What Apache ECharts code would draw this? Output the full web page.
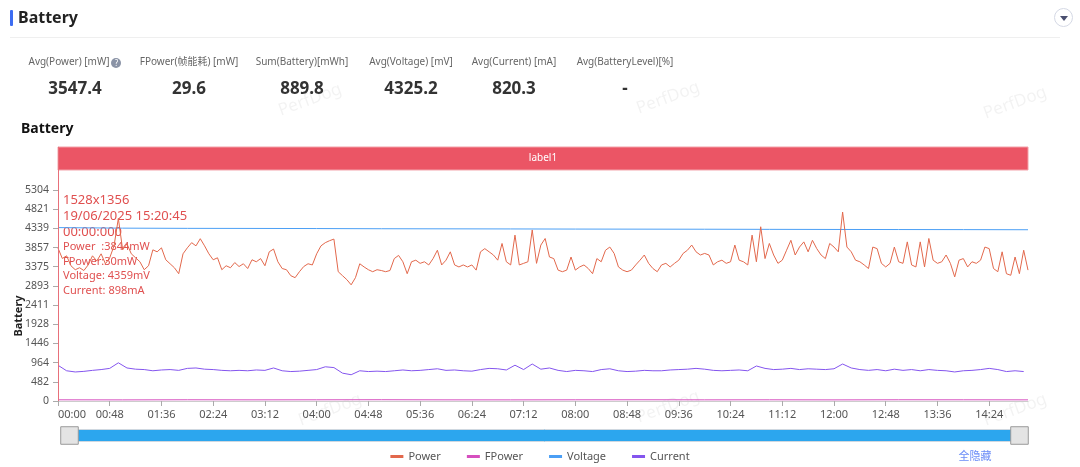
<!DOCTYPE html>
<html>
<head>
<meta charset="utf-8">
<script src="https://cdn.jsdelivr.net/npm/echarts@6/dist/echarts.min.js"></script>
<style>
body{margin:0;background:#fff;font-family:"Noto Sans","Noto Sans CJK SC",sans-serif;}
#wrap{position:relative;width:1080px;height:467px;overflow:hidden;}
#lineArea{position:absolute;left:0;top:0;width:1080px;height:467px;}
.abs{position:absolute;}
.bar{left:10px;top:10px;width:3px;height:16px;background:#3d6df2;border-radius:1px;}
.head{left:18px;top:6px;font-size:16px;font-weight:bold;color:#222;line-height:22px;}
.sep{left:10px;top:37px;width:1050px;height:1px;background:#efefef;}
.btn{left:1054px;top:8px;width:17px;height:17px;border:1px solid #d4d8e4;border-radius:50%;}
.btn:after{content:"";position:absolute;left:5px;top:7px;border-left:4px solid transparent;border-right:4px solid transparent;border-top:5px solid #4a5070;}
.lab{width:160px;text-align:center;top:53px;font-size:10px;color:#666;line-height:16px;white-space:nowrap;}
.val{width:160px;text-align:center;top:76px;font-size:17px;font-weight:bold;color:#333;line-height:24px;}
.q{display:inline-block;width:10px;height:10px;border-radius:50%;background:#8a93a6;color:#fff;font-size:8px;line-height:10px;text-align:center;vertical-align:-1px;margin-left:2px;}
</style>
</head>
<body>
<div id="wrap">
  <div id="lineArea"></div>
  <div class="abs bar"></div>
  <div class="abs head">Battery</div>
  <div class="abs sep"></div>
  <div class="abs btn"></div>
  <div id="stats"></div>
</div>
<script>
// 顶部统计
var statNames = ['Avg(Power) [mW]', 'FPower(帧能耗) [mW]', 'Sum(Battery)[mWh]', 'Avg(Voltage) [mV]', 'Avg(Current) [mA]', 'Avg(BatteryLevel)[%]'];
var statValues = ['3547.4', '29.6', '889.8', '4325.2', '820.3', '-'];
var statCenters = [75, 189, 302, 411, 514, 625];

// 曲线数据 (秒)
var powerStep = 4;
var power = [
  3844,3583,3650,3400,3300,3350,3280,3420,3650,3520,3700,3450,3600,3900,4590,3800,3950,3700,3600,3500,
  3300,3400,3800,3750,3850,3550,3450,3350,3200,3700,3850,3980,3900,4080,3900,3700,3550,3600,3300,3400,
  3350,3480,3380,3450,3330,3550,3500,3580,3400,3750,3820,3500,3330,3300,3150,3100,3250,3380,3450,3420,
  3700,3900,3980,4030,4070,3250,3150,3050,2920,3100,3450,3370,3300,3250,3300,3280,
  3250,3280,3580,3660,3500,3200,3500,3540,3460,3500,3420,3580,3790,3420,3540,3750,3420,3370,3420,3370,
  3420,3290,3750,3830,3750,3670,3540,3960,3500,3420,4170,3420,3460,3500,4300,3460,3920,4085,3620,3580,
  3290,3250,3290,3620,3290,3370,3420,3330,3200,3580,3500,3790,3870,3710,3370,3290,3250,3290,3420,3540,
  3670,3460,3330,3250,3420,3460,3370,3460,3540,3710,3790,3920,3750,3670,3710,
  3670,3420,3500,3540,3460,3500,3920,3540,3500,3420,4170,3500,4380,3580,3960,3670,3460,3540,3790,4040,
  3670,3870,4000,3750,4040,3830,3670,3580,3960,3870,3750,4750,3870,3750,3540,3500,3420,3330,3870,3830,
  3460,3370,3460,3870,3500,3460,4000,3420,3370,4000,3370,4085,3540,3460,3500,3670,3460,3120,3540,3580,
  3370,3500,3460,3540,3870,3830,3330,3250,3750,3200,3160,3620,3200,3790,3290
];
var currentStep = 8;
var current = [
  898,760,730,745,770,790,820,960,830,800,790,760,780,790,770,820,830,800,790,770,
  760,770,760,780,770,830,760,740,750,770,790,860,840,700,660,760,740,750,
  740,760,780,760,770,790,810,770,780,760,750,790,820,810,780,900,790,930,800,830,
  770,740,770,760,740,790,810,760,740,750,770,760,760,780,790,800,820,800,
  770,760,770,780,760,880,820,790,800,820,790,810,800,790,810,930,830,790,770,790,
  760,800,770,790,760,790,770,760,730,760,770,790,820,790,740,760,740
];
var slowStep = 60;
var voltage = [4359,4345,4340,4338,4335,4330,4328,4325,4322,4320,4318,4315,4312,4310,4308,4305];
var fpower = [30,28,31,29,30,32,29,28,30,31,29,30,28,31,30,29];

var yTickLabels = ['0','482','964','1446','1928','2411','2893','3375','3857','4339','4821','5304'];
var xTickLabels = ['00:00','00:48','01:36','02:24','03:12','04:00','04:48','05:36','06:24','07:12','08:00',
  '08:48','09:36','10:24','11:12','12:00','12:48','13:36','14:24'];
var totalSecs = 900;
var markerSec = 0;
var markerLines = ['1528x1356', '19/06/2025 15:20:45', '00:00:000'];
var markerValues = ['Power  :3844mW', 'FPower:30mW', 'Voltage: 4359mV', 'Current: 898mA'];

var yMax = 6385, bandLow = 5807;

// stats
var statsBox = document.getElementById('stats');
statNames.forEach(function (n, i) {
  var l = document.createElement('div');
  l.className = 'abs lab';
  l.style.left = (statCenters[i] - 80) + 'px';
  l.innerHTML = n + (i === 0 ? '<span class="q">?</span>' : '');
  statsBox.appendChild(l);
  var v = document.createElement('div');
  v.className = 'abs val';
  v.style.left = (statCenters[i] - 80) + 'px';
  v.textContent = statValues[i];
  statsBox.appendChild(v);
});

function toPairs(arr, step) {
  return arr.map(function (v, i) { return [i * step, v]; });
}
function secText(s) {
  var m = Math.floor(s / 60), r = Math.round(s % 60);
  return (m < 10 ? '0' : '') + m + ':' + (r < 10 ? '0' : '') + r;
}
var xTicks = xTickLabels.map(function (t) {
  var p = t.split(':');
  return (+p[0]) * 60 + (+p[1]);
});
var yTicks = yTickLabels.map(Number);

var marks = [];
[[310, 100], [668, 98], [1015, 103], [330, 410], [668, 407], [1015, 410]].forEach(function (p) {
  marks.push({
    type: 'text', x: p[0], y: p[1], rotation: 0.35, z: 0,
    style: { text: 'PerfDog', fontSize: 17, fill: 'rgba(0,0,0,0.05)', align: 'center', verticalAlign: 'middle', fontFamily: 'Noto Sans' }
  });
});
marks.push({
  type: 'text', x: 975, y: 456,
  style: { text: '全隐藏', fontSize: 11, fill: '#6b8cf7', align: 'center', verticalAlign: 'middle', fontFamily: 'Noto Sans CJK SC' }
});

var myChart = echarts.init(document.getElementById('lineArea'));
var option = {
  animation: false,
  color: ['#e2684c', '#d64fbf', '#4b9ff5', '#8455ee'],
  textStyle: { fontFamily: 'Noto Sans' },
  title: {
    text: 'Battery', left: 16, top: 117,
    textStyle: { fontSize: 14, fontWeight: 'bold', color: '#111' }
  },
  grid: { left: 58, right: 52, top: 147, bottom: 66, outerBoundsMode: 'none', containLabel: false },
  legend: {
    bottom: 0, left: 'center', icon: 'rect', itemWidth: 13, itemHeight: 3, itemGap: 26,
    textStyle: { fontSize: 11, color: '#555' },
    data: ['Power', 'FPower', 'Voltage', 'Current']
  },
  xAxis: {
    type: 'value', min: 0, max: totalSecs,
    axisLine: { lineStyle: { color: '#ccc' } },
    axisTick: { length: 5, lineStyle: { color: '#aaa' }, customValues: xTicks },
    splitLine: { show: false },
    axisLabel: {
      customValues: xTicks, fontSize: 11, color: '#555', margin: 8,
      alignMinLabel: 'left', formatter: function (v) { return secText(v); }
    }
  },
  yAxis: {
    type: 'value', min: 0, max: yMax,
    name: 'Battery', nameLocation: 'middle', nameGap: 34, nameMoveOverlap: false,
    nameTextStyle: { fontSize: 11, fontWeight: 'bold', color: '#222', padding: [0, 84, 0, 0] },
    axisLine: { show: true, lineStyle: { color: '#ccc' } },
    axisTick: { show: true, length: 5, lineStyle: { color: '#aaa' }, customValues: yTicks },
    splitLine: { show: false },
    axisLabel: {
      customValues: yTicks, fontSize: 10.5, color: '#555', margin: 9,
      formatter: function (v) { return yTickLabels[yTicks.indexOf(v)] || ''; }
    }
  },
  dataZoom: [{
    type: 'slider', xAxisIndex: 0, left: 67, right: 61, top: 429, height: 13,
    start: 0, end: 100, showDetail: false, showDataShadow: false, brushSelect: false,
    moveHandleSize: 0, borderColor: '#cfd8e0', backgroundColor: '#eef3f7',
    fillerColor: '#2ca6ee',
    handleIcon: 'path://M0,0H100V100H0Z', handleSize: '135%',
    handleStyle: { color: '#e4e4e4', borderColor: '#9a9a9a', borderWidth: 1 }
  }],
  series: [
    {
      name: 'Power', type: 'line', symbol: 'none', data: toPairs(power, powerStep),
      lineStyle: { width: 1 }, z: 4,
      markLine: {
        silent: true, symbol: 'none', label: { show: false },
        lineStyle: { color: '#e8707a', type: 'solid', width: 1 },
        data: [{ xAxis: markerSec }]
      },
      markArea: {
        silent: true,
        itemStyle: { color: '#eb5565', borderColor: '#f3a0a8', borderWidth: 1 },
        label: { show: true, position: 'inside', color: '#fff', fontSize: 10 },
        data: [[{ name: 'label1', xAxis: 0, yAxis: bandLow }, { xAxis: totalSecs, yAxis: yMax }]]
      }
    },
    { name: 'FPower', type: 'line', symbol: 'none', data: toPairs(fpower, slowStep), lineStyle: { width: 1 } },
    { name: 'Voltage', type: 'line', symbol: 'none', data: toPairs(voltage, slowStep), lineStyle: { width: 1 } },
    { name: 'Current', type: 'line', symbol: 'none', data: toPairs(current, currentStep), lineStyle: { width: 1 } }
  ],
  graphic: marks
};
myChart.setOption(option);

// 标记点文字
var pos = myChart.convertToPixel({ gridIndex: 0 }, [markerSec, yTicks[yTicks.length - 1]]);
var rich = '{big|' + markerLines.join('}\n{big|') + '}\n{small|' + markerValues.join('}\n{small|') + '}';
marks.push({
  type: 'text', x: pos[0] + 5, y: pos[1] + 2, z: 1,
  style: {
    text: rich, fill: '#e05050',
    rich: {
      big: { fontSize: 13, lineHeight: 16, fill: '#e05050', fontFamily: 'Noto Sans' },
      small: { fontSize: 11, lineHeight: 14.5, fill: '#e05050', fontFamily: 'Noto Sans' }
    }
  }
});
myChart.setOption({ graphic: marks });
</script>
</body>
</html>
